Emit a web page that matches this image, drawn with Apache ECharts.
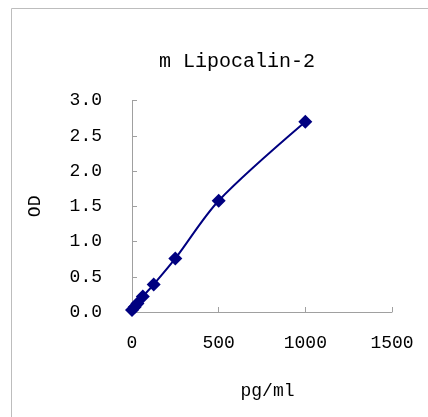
<!DOCTYPE html>
<html><head><meta charset="utf-8">
<script src="https://cdn.jsdelivr.net/npm/echarts@6/dist/echarts.min.js"></script>
<style>html,body{margin:0;padding:0;background:#fff}#c{width:428px;height:417px}</style>
</head><body><div id="c"></div>
<script>
var concentrations = [0, 15.6, 31.25, 62.5, 125, 250, 500, 1000];
var odValues = [0.03, 0.07, 0.12, 0.22, 0.39, 0.76, 1.58, 2.70];
var titleText = 'm Lipocalin-2';
var xName = 'pg/ml';
var yName = 'OD';
var F = '"Liberation Mono", "DejaVu Sans Mono", monospace';
var chart = echarts.init(document.getElementById('c'));
chart.setOption({
  animation: false,
  graphic: [{type:'rect', shape:{x:11.5,y:8.5,width:430,height:420}, style:{fill:'none', stroke:'#bdbdbd', lineWidth:1}}],
  title: {text: titleText, left: 232, top: 47, textAlign: 'center', textStyle:{fontFamily:F, fontSize:20, fontWeight:'normal', color:'#000'}},
  grid: {left:132, right:36, top:100.7, bottom:105, containLabel:false},
  xAxis: {type:'value', min:0, max:1500, interval:500, name:xName, nameLocation:'middle', nameGap:70,
    nameTextStyle:{fontFamily:F, fontSize:18, color:'#000', padding:[0,0,0,11]},
    axisLine:{lineStyle:{color:'#a0a0a0'}}, axisTick:{inside:true, length:5, lineStyle:{color:'#a0a0a0'}},
    axisLabel:{fontFamily:F, fontSize:18, color:'#000', margin:22, formatter:function(v){return String(v);}}, splitLine:{show:false}},
  yAxis: {type:'value', min:0, max:3.0, interval:0.5, name:yName, nameLocation:'middle', nameGap:88,
    nameTextStyle:{fontFamily:F, fontSize:18, color:'#000'},
    axisLine:{show:true, lineStyle:{color:'#a0a0a0'}}, axisTick:{show:true, inside:true, length:5, lineStyle:{color:'#a0a0a0'}},
    axisLabel:{fontFamily:F, fontSize:18, color:'#000', margin:30, formatter:function(v){return v.toFixed(1);}}, splitLine:{show:false}},
  series: [{type:'line', data: concentrations.map(function(c,i){return [c, odValues[i]];}), smooth:0.3,
    symbol:'diamond', symbolSize:14, itemStyle:{color:'#000080'}, lineStyle:{color:'#000080', width:2}}]
});
</script></body></html>
